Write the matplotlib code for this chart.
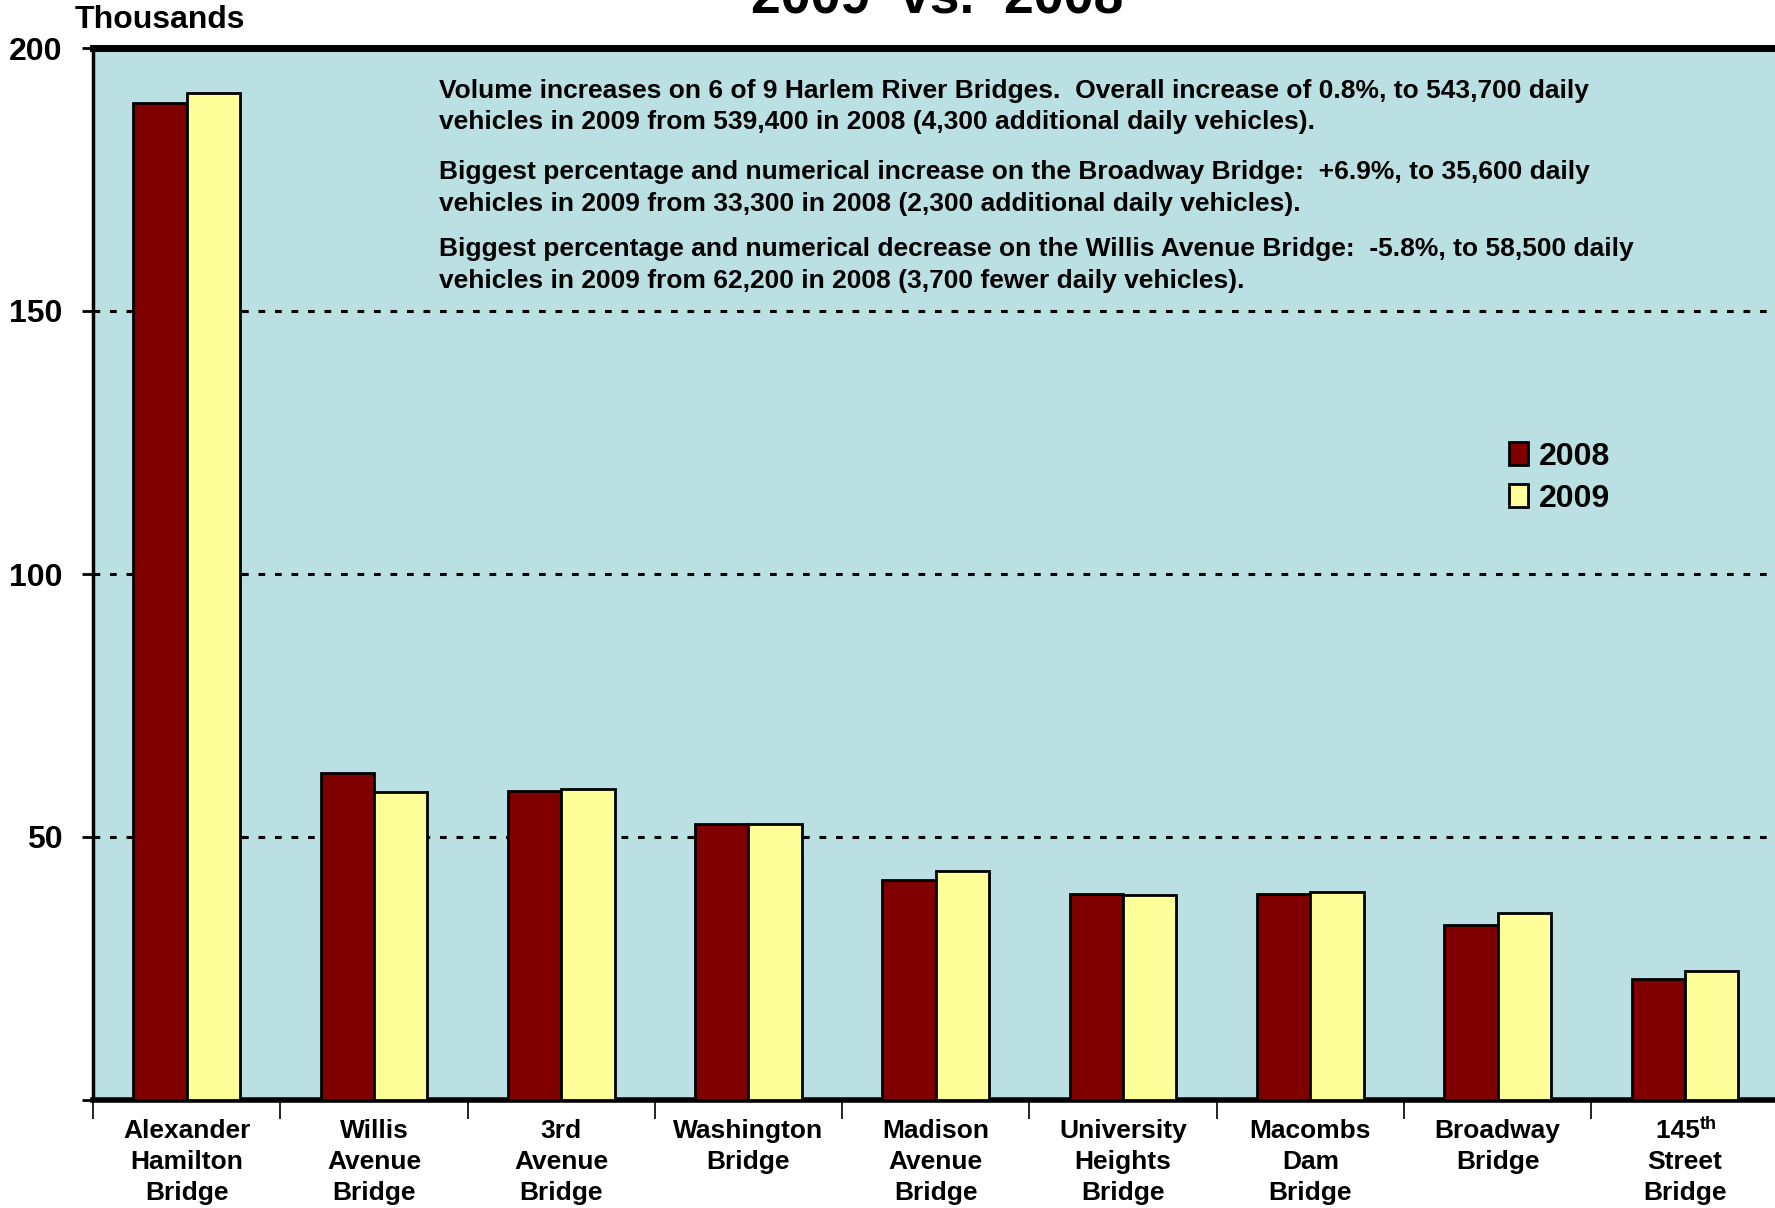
import matplotlib
matplotlib.use("Agg")
import matplotlib.pyplot as plt
import numpy as np

plt.rcParams['font.family'] = ['Liberation Sans', 'DejaVu Sans']

bridges = ["Alexander\nHamilton\nBridge", "Willis\nAvenue\nBridge", "3rd\nAvenue\nBridge",
           "Washington\nBridge", "Madison\nAvenue\nBridge", "University\nHeights\nBridge",
           "Macombs\nDam\nBridge", "Broadway\nBridge", "145  \nStreet\nBridge"]
vol_2008 = [189.5, 62.2, 58.7, 52.5, 41.9, 39.1, 39.1, 33.3, 23.0]
vol_2009 = [191.4, 58.5, 59.2, 52.4, 43.6, 39.0, 39.6, 35.6, 24.6]
series_labels = ["2008", "2009"]
y_ticks = [50, 100, 150, 200]

W, H = 1775, 1208
fig = plt.figure(figsize=(W/100, H/100), dpi=100)
ax = fig.add_axes([93/W, 1 - 1100/H, 1 - 93/W + 0.002, (1100 - 48)/H])
ax.set_facecolor('#BAE0E3')

x = np.arange(len(bridges))
bw = 0.285
ax.bar(x - bw/2, vol_2008, bw, color='#800000', edgecolor='black', linewidth=2, zorder=3, label=series_labels[0])
ax.bar(x + bw/2, vol_2009, bw, color='#FFFF99', edgecolor='black', linewidth=2, zorder=3, label=series_labels[1])

ax.set_xlim(-0.5, len(bridges) - 0.5)
ax.set_ylim(0, 200)

for v in [50, 100, 150]:
    ax.axhline(v, color='black', linewidth=2.2, linestyle=(0, (2.2, 3.2)), zorder=1)

ax.set_yticks([0] + y_ticks)
ax.set_yticklabels([''] + [str(v) for v in y_ticks], fontsize=23, fontweight='bold')
ax.tick_params(axis='y', direction='out', length=8, width=2, pad=14)

ax.set_xticks(x)
ax.set_xticklabels(bridges, fontsize=19, fontweight='bold', linespacing=1.36)
ax.tick_params(axis='x', which='major', length=0, pad=14)
ax.set_xticks(np.arange(-0.5, len(bridges) - 0.4, 1), minor=True)
ax.tick_params(axis='x', which='minor', direction='out', length=14, width=1.2)

# superscript "th" for 145th
ax.annotate("th", xy=(len(bridges) - 1, 0), xycoords=('data', 'axes fraction'),
            xytext=(10.8, -11.5), textcoords='offset points', fontsize=13, fontweight='bold',
            ha='left', va='top')

ax.spines['left'].set_linewidth(2.5)
ax.spines['top'].set_linewidth(5)
ax.spines['bottom'].set_linewidth(4)
ax.spines['right'].set_visible(False)

fig.text(75/W, 1 - 20/H, "Thousands", fontsize=23, fontweight='bold', va='center', ha='left')
fig.text(937/W, 1 - 13/H, "2009  vs.  2008", fontsize=38.5, fontweight='bold', va='baseline', ha='center')

lines = [
    "Volume increases on 6 of 9 Harlem River Bridges.  Overall increase of 0.8%, to 543,700 daily",
    "vehicles in 2009 from 539,400 in 2008 (4,300 additional daily vehicles).",
    "Biggest percentage and numerical increase on the Broadway Bridge:  +6.9%, to 35,600 daily",
    "vehicles in 2009 from 33,300 in 2008 (2,300 additional daily vehicles).",
    "Biggest percentage and numerical decrease on the Willis Avenue Bridge:  -5.8%, to 58,500 daily",
    "vehicles in 2009 from 62,200 in 2008 (3,700 fewer daily vehicles).",
]
line_y = [90.6, 122.3, 172.1, 203.8, 249.1, 280.8]
for t, yy in zip(lines, line_y):
    fig.text(439/W, 1 - yy/H, t, fontsize=19, fontweight='bold', va='center', ha='left')

ax.legend(loc='upper left', bbox_to_anchor=((1477 - 93)/(W - 93), (1100 - 413)/1052),
          frameon=False, handlelength=0.6, handleheight=0.75,
          handletextpad=0.35, labelspacing=0.38, prop={'weight': 'bold', 'size': 23})

fig.savefig("out.png", dpi=100)
